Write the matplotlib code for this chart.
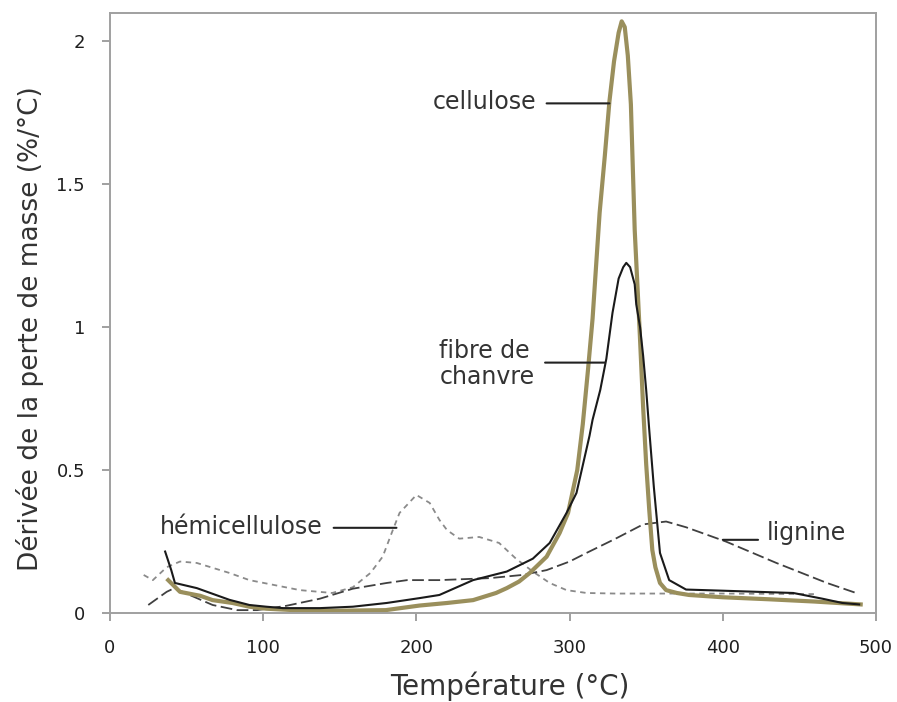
import numpy as np
import matplotlib
matplotlib.use("Agg")
import matplotlib.pyplot as plt

# courbes DTG (x en °C, y en %/°C)
cel_x = [38, 45.7, 59, 67, 80, 91, 102, 120, 150, 180, 202, 220, 237, 252, 259, 267, 274, 285, 293.5,
         299, 305, 308.6, 312, 315, 319.6, 323, 326, 329, 332, 334, 336, 338, 340, 342.5, 345.7,
         348, 350, 352, 354, 356, 359, 363, 370, 378, 400, 430, 460, 490]
cel_y = [0.115, 0.074, 0.06, 0.045, 0.035, 0.022, 0.015, 0.01, 0.008, 0.01, 0.026, 0.035, 0.045, 0.07,
         0.087, 0.11, 0.14, 0.197, 0.28, 0.35, 0.5, 0.66, 0.85, 1.03, 1.4, 1.6, 1.79, 1.93, 2.03,
         2.07, 2.05, 1.95, 1.78, 1.34, 0.99, 0.72, 0.52, 0.36, 0.22, 0.16, 0.105, 0.08, 0.07, 0.063,
         0.055, 0.048, 0.04, 0.03]

fib_x = [36, 40, 42.4, 56.7, 78, 91, 102, 113, 137, 158.5, 180.6, 202, 215, 237, 259, 276, 287, 298,
         304.5, 313, 315, 320, 324, 328, 332, 335, 337, 339.5, 342.5, 343.5, 346, 348, 350, 352, 355,
         359, 365, 376, 400, 446, 465, 478, 489]
fib_y = [0.215, 0.15, 0.105, 0.087, 0.046, 0.028, 0.022, 0.017, 0.017, 0.022, 0.035, 0.052, 0.063,
         0.115, 0.145, 0.19, 0.245, 0.35, 0.42, 0.62, 0.676, 0.78, 0.89, 1.05, 1.17, 1.21, 1.225,
         1.21, 1.15, 1.08, 1.0, 0.9, 0.78, 0.64, 0.44, 0.21, 0.115, 0.082, 0.078, 0.07, 0.05, 0.035, 0.03]

hemi_x = [22, 28, 37, 45.7, 56.7, 78, 91, 124, 145, 158.5, 170, 178, 184.6, 189, 200, 208.7, 215, 220,
          228, 241, 254, 265, 276, 287, 298, 311, 330, 400, 460]
hemi_y = [0.133, 0.115, 0.16, 0.18, 0.175, 0.14, 0.115, 0.08, 0.07, 0.09, 0.14, 0.197, 0.29, 0.35,
          0.413, 0.385, 0.326, 0.29, 0.26, 0.266, 0.245, 0.19, 0.145, 0.105, 0.08, 0.07, 0.068,
          0.068, 0.066]

lig_x = [25, 37, 42, 52, 67, 83, 96, 115, 137, 158.5, 180.6, 194, 215, 248, 269, 285, 300, 311, 330,
         348, 363, 376, 402, 435, 468, 487]
lig_y = [0.028, 0.074, 0.087, 0.063, 0.028, 0.01, 0.01, 0.025, 0.05, 0.085, 0.105, 0.115, 0.115,
         0.122, 0.133, 0.15, 0.18, 0.21, 0.26, 0.31, 0.32, 0.30, 0.25, 0.175, 0.105, 0.07]

fig = plt.figure(figsize=(8.97, 7.02), dpi=100)
ax = fig.add_axes([0.1226, 0.1268, 0.854, 0.855])

ax.plot(hemi_x, hemi_y, color="#8a8a8a", lw=1.3, dashes=(3, 2.5))
ax.plot(lig_x, lig_y, color="#404040", lw=1.3, dashes=(6.5, 2.5))
ax.plot(cel_x, cel_y, color="#9a8f5c", lw=3)
ax.plot(fib_x, fib_y, color="#1a1a1a", lw=1.5)

ax.set_xlim(0, 500)
ax.set_ylim(0, 2.1)
ax.set_xticks([0, 100, 200, 300, 400, 500])
ax.set_yticks([0, 0.5, 1, 1.5, 2])
ax.set_yticklabels(["0", "0.5", "1", "1.5", "2"])
for s in ax.spines.values():
    s.set_color("#a0a0a0")
    s.set_linewidth(1.4)
ax.tick_params(colors="#a0a0a0", length=6, width=1.4, labelsize=13, labelcolor="#1e1e1e")
ax.tick_params(axis="x", pad=13)
ax.tick_params(axis="y", pad=12)

txt = "#333333"
ax.set_xlabel("Température (°C)", fontsize=20, color=txt)
ax.set_ylabel("Dérivée de la perte de masse (%/°C)", fontsize=19, color=txt)
ax.xaxis.set_label_coords(0.522, -0.098)
ax.yaxis.set_label_coords(-0.086, 0.473)

# étiquettes et traits de rappel
lead = dict(arrowstyle="-", color="#222222", lw=1.5, shrinkA=0, shrinkB=0)
ax.text(278, 1.787, "cellulose", fontsize=17, color=txt, ha="right", va="center")
ax.annotate("", xy=(326, 1.783), xytext=(285, 1.783), arrowprops=lead)

ax.text(215, 0.87, "fibre de\nchanvre", fontsize=17, color=txt, ha="left", va="center",
        linespacing=1.1)
ax.annotate("", xy=(323, 0.876), xytext=(284, 0.876), arrowprops=lead)

ax.text(139, 0.30, "hémicellulose", fontsize=17, color=txt, ha="right", va="center")
ax.annotate("", xy=(187, 0.298), xytext=(146, 0.298), arrowprops=lead)

ax.text(429, 0.28, "lignine", fontsize=17, color=txt, ha="left", va="center")
ax.annotate("", xy=(400, 0.256), xytext=(423, 0.256), arrowprops=lead)

fig.savefig("out.png", dpi=100)
